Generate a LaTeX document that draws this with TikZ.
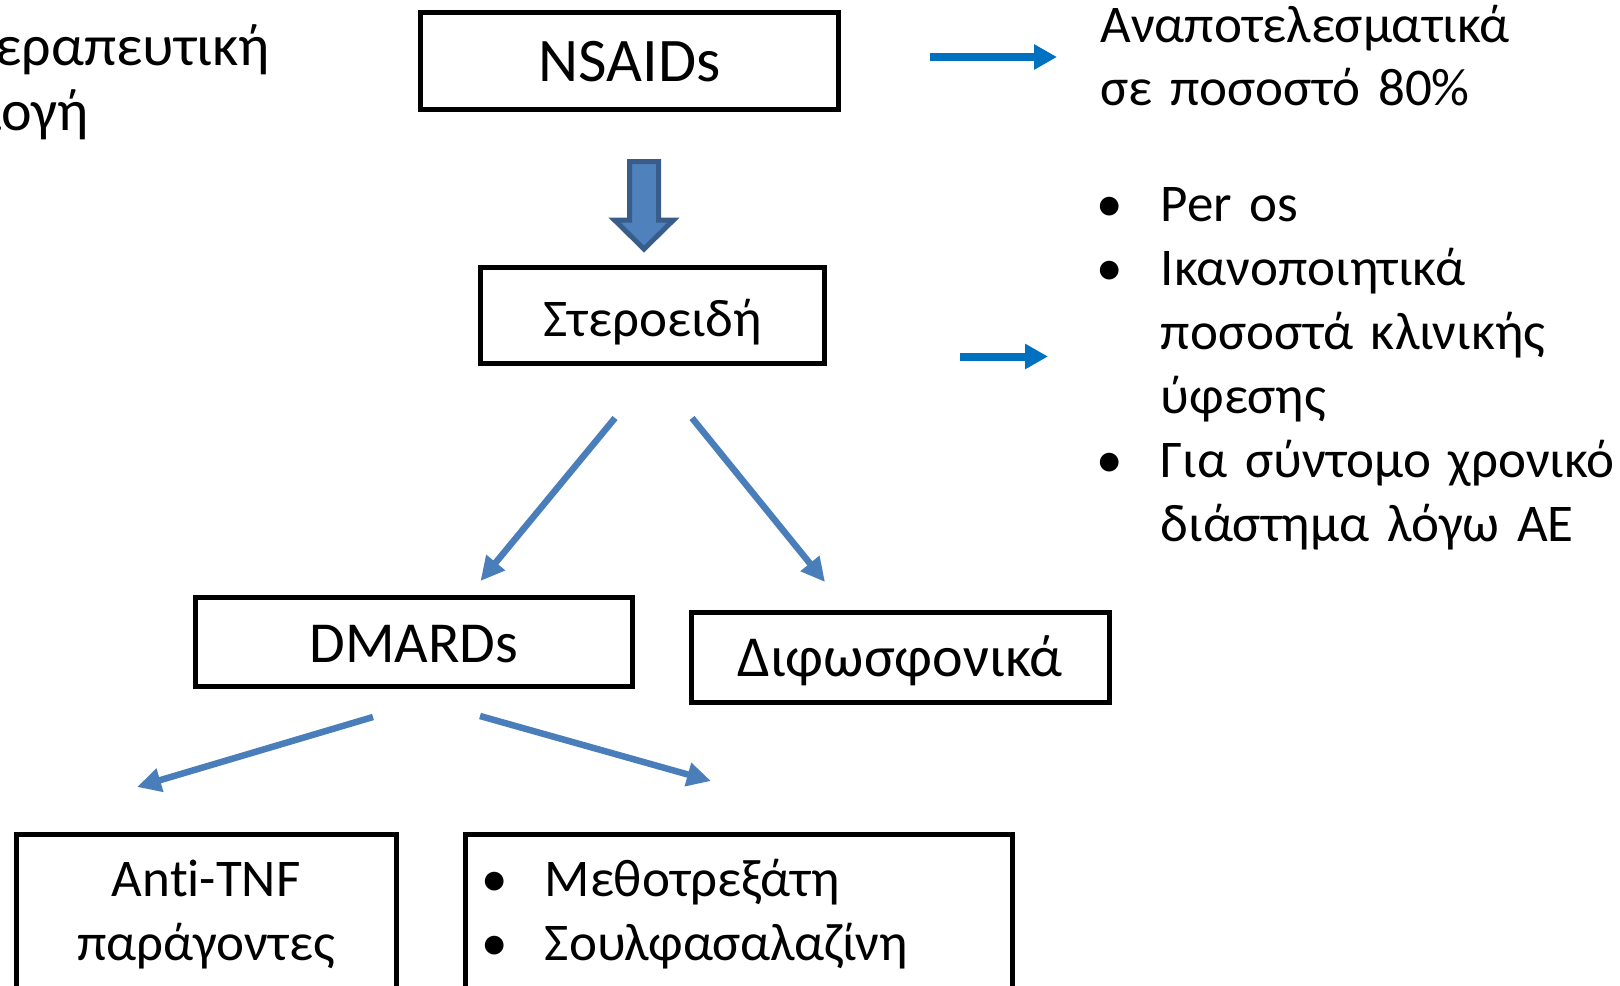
\documentclass[tikz,border=0pt]{standalone}
\usepackage{fontspec}
\setmainfont{Carlito}[Ligatures=NoCommon,WordSpace=0.65]
\usepackage{xcolor}
\usepackage{tikz}
\usetikzlibrary{arrows.meta}
\usetikzlibrary{positioning}

\definecolor{flowblue}{HTML}{4A7EBB}
\definecolor{sideblue}{HTML}{0070C0}
\definecolor{blockfill}{HTML}{4F81BD}
\definecolor{blockedge}{HTML}{385D8A}

\tikzset{
  myarrow/.style={
    draw=flowblue,
    line width=3.25pt,
    -{Triangle[length=12pt,width=11.5pt]},
  },
  mysidearrow/.style={
    draw=sideblue,
    line width=4pt,
    -{Triangle[length=11.5pt,width=12pt]},
  },
  myblockarrow/.style={
    draw=blockedge,
    fill=blockfill,
    line width=2.5pt,
    line join=miter,
  },
  mybox/.style={
    draw=black,
    shape=rectangle,
    line width=2.5pt,
    align=center,
    inner sep=0pt,
  },
  mytext/.style={
    align=left,
    inner sep=0pt,
    anchor=base west,
    font=\fontsize{26.5}{32}\selectfont,
  },
}

\begin{document}
\begin{tikzpicture}[x=0.5pt,y=-0.5pt]
  \useasboundingbox (0,0) rectangle (1620,985);
  \clip (0,0) rectangle (1620,985);

  \node[mytext, text width=200pt, font=\fontsize{29}{32.5}\selectfont] (title) at (-43.4,65) {Θεραπευτική\\\hspace*{-28.5pt}επιλογή};

  \node[mybox, minimum width=209pt, minimum height=48.5pt, font=\fontsize{31}{31}\selectfont, text height=25.75pt, text depth=5.25pt] (nsaids) at (629.5,61) {NSAIDs};
  \node[mybox, minimum width=172pt, minimum height=48pt, font=\fontsize{26.5}{26.5}\selectfont, text height=23.9pt, text depth=2.6pt] (steroids) at (652.5,315) {Στεροειδή};
  \node[mybox, minimum width=218.5pt, minimum height=44.5pt, font=\fontsize{29}{29}\selectfont, text height=24.75pt, text depth=4.25pt] (dmards) at (414,641.5) {DMARDs};
  \node[mybox, minimum width=209pt, minimum height=44.75pt, font=\fontsize{29}{29}\selectfont, text height=24.25pt, text depth=4.75pt] (bisphosphonates) at (900,657.25) {Διφωσφονικά};

  \node[mybox, anchor=base, text width=180.25pt, inner xsep=5pt, text height=31pt, text depth=65pt, font=\fontsize{26.5}{32}\selectfont] (antitnf) at (206.25,896) {Anti-TNF\\παράγοντες};
  \node[mybox, anchor=base west, align=left, text width=258pt, inner xsep=7.75pt, text height=31pt, text depth=65pt, font=\fontsize{26.5}{32}\selectfont] (dmardlist) at (463,896) {\makebox[32pt][l]{•}Μεθοτρεξάτη\\\makebox[32pt][l]{•}Σουλφασαλαζίνη};

  \node[mytext, text width=260pt, font=\fontsize{26.5}{31.5}\selectfont] (ineffective) at (1100,42) {Αναποτελεσματικά\\σε ποσοστό 80\%};
  \node[mytext, text width=270pt] (steroidnotes) at (1096.5,221) {\makebox[32pt][l]{•}Per os\\\makebox[32pt][l]{•}Ικανοποιητικά\\\hspace*{32pt}ποσοστά κλινικής\\\hspace*{32pt}ύφεσης\\\makebox[32pt][l]{•}Για σύντομο χρονικό\\\hspace*{32pt}διάστημα λόγω ΑΕ};

  \coordinate (nsaids-down) at (644,161.5);
  \coordinate (steroids-up) at (644,249);
  \coordinate (steroids-left) at (615,418);
  \coordinate (steroids-right) at (692,418);
  \coordinate (dmards-top) at (480.5,581);
  \coordinate (bisphosphonates-top) at (825,582);
  \coordinate (dmards-left) at (373,717);
  \coordinate (dmards-right) at (480,716);
  \coordinate (antitnf-top) at (137,787);
  \coordinate (dmardlist-top) at (711,781);
  \coordinate (nsaids-side) at (930,57);
  \coordinate (ineffective-in) at (1057,57);
  \coordinate (steroids-side) at (960,356.5);
  \coordinate (steroidnotes-in) at (1048,356.5);

  \draw[myblockarrow] (nsaids-down) ++(-14.5,0) -- ++(29,0) -- ++(0,58.5) -- ++(15,0) -- (steroids-up) -- ++(-29.5,-29) -- ++(15,0) -- cycle;
  \draw[myarrow] (steroids-left) -- (dmards-top);
  \draw[myarrow] (steroids-right) -- (bisphosphonates-top);
  \draw[myarrow] (dmards-left) -- (antitnf-top);
  \draw[myarrow] (dmards-right) -- (dmardlist-top);
  \draw[mysidearrow] (nsaids-side) -- (ineffective-in);
  \draw[mysidearrow] (steroids-side) -- (steroidnotes-in);
\end{tikzpicture}
\end{document}
